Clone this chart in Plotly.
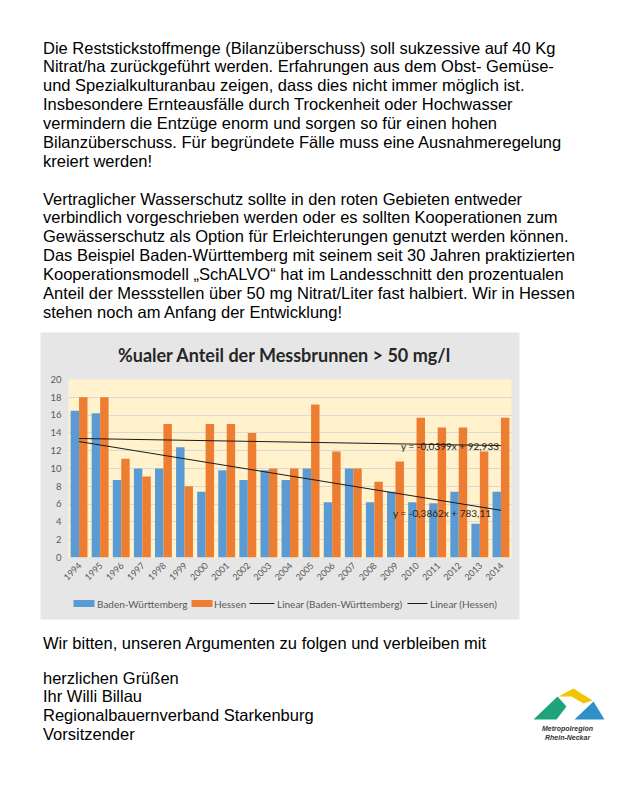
import plotly.graph_objects as go

# ---------------- data ----------------
years = list(range(1994, 2015))
year_labels = [str(y) for y in years]
bw_values = [16.5, 16.2, 8.7, 10.0, 10.0, 12.4, 7.4, 9.8, 8.7, 9.8, 8.7,
             10.0, 6.2, 10.0, 6.2, 7.4, 6.2, 6.1, 7.4, 3.8, 7.4]
hessen_values = [18.0, 18.0, 11.1, 9.1, 15.0, 8.0, 15.0, 15.0, 14.0, 10.0, 10.0,
                 17.2, 11.9, 10.0, 8.5, 10.8, 15.7, 14.6, 14.6, 11.9, 15.7]
bw_slope, bw_intercept = -0.3862, 783.11
he_slope, he_intercept = -0.0399, 92.933
bw_eq = "y = -0,3862x + 783,11"
he_eq = "y = -0,0399x + 92,933"
y_ticks = list(range(0, 21, 2))
chart_title = "%ualer Anteil der Messbrunnen &gt; 50 mg/l"
series_names = ["Baden-Württemberg", "Hessen",
                "Linear (Baden-Württemberg)", "Linear (Hessen)"]

para1 = [
    "Die Reststickstoffmenge (Bilanzüberschuss) soll sukzessive auf 40 Kg",
    "Nitrat/ha zurückgeführt werden. Erfahrungen aus dem Obst- Gemüse-",
    "und Spezialkulturanbau zeigen, dass dies nicht immer möglich ist.",
    "Insbesondere Ernteausfälle durch Trockenheit oder Hochwasser",
    "vermindern die Entzüge enorm und sorgen so für einen hohen",
    "Bilanzüberschuss. Für begründete Fälle muss eine Ausnahmeregelung",
    "kreiert werden!",
]
para2 = [
    "Vertraglicher Wasserschutz sollte in den roten Gebieten entweder",
    "verbindlich vorgeschrieben werden oder es sollten Kooperationen zum",
    "Gewässerschutz als Option für Erleichterungen genutzt werden können.",
    "Das Beispiel Baden-Württemberg mit seinem seit 30 Jahren praktizierten",
    "Kooperationsmodell „SchALVO“ hat im Landesschnitt den prozentualen",
    "Anteil der Messstellen über 50 mg Nitrat/Liter fast halbiert. Wir in Hessen",
    "stehen noch am Anfang der Entwicklung!",
]
closing = "Wir bitten, unseren Argumenten zu folgen und verbleiben mit"
signature = ["herzlichen Grüßen", "Ihr Willi Billau",
             "Regionalbauernverband Starkenburg", "Vorsitzender"]

# ---------------- geometry helpers ----------------
W, H = 620, 786
OX, OY = 8.5, 8.5   # page offset of the figure inside the browser window
def px(x):
    return (x - OX) / W
def py(y):
    return 1 - (y - OY) / H

PL, PR, PT, PB = 69, 512, 380, 558

bw_trend = [bw_slope * y + bw_intercept for y in years]
he_trend = [he_slope * y + he_intercept for y in years]

fig = go.Figure()
fig.add_trace(go.Bar(x=years, y=bw_values, name=series_names[0], showlegend=False,
                     marker=dict(color="#5B9BD5", line=dict(width=0))))
fig.add_trace(go.Bar(x=years, y=hessen_values, name=series_names[1], showlegend=False,
                     marker=dict(color="#ED7D31", line=dict(width=0))))
fig.add_trace(go.Scatter(x=years, y=bw_trend, mode="lines", showlegend=False,
                         name=series_names[2],
                         line=dict(color="#1a1a1a", width=1)))
fig.add_trace(go.Scatter(x=years, y=he_trend, mode="lines", showlegend=False,
                         name=series_names[3],
                         line=dict(color="#1a1a1a", width=1)))

def rect(x0, x1, y0, y1, color, layer="below"):
    return dict(type="rect", xref="paper", yref="paper", layer=layer,
                x0=px(x0), x1=px(x1), y0=py(y1), y1=py(y0),
                fillcolor=color, line=dict(width=0))

def poly(pts, color):
    d = "M " + " L ".join("%f %f" % (px(a), py(b)) for a, b in pts) + " Z"
    return dict(type="path", xref="paper", yref="paper", layer="above",
                path=d, fillcolor=color, line=dict(width=0))

shapes = [
    rect(41, 520, 333, 620, "#E7E6E6"),
    rect(PL, PR, PT, PB, "#FFF2CC"),
    # custom legend swatches
    rect(74, 95, 600.5, 607.5, "#5B9BD5", "above"),
    rect(192, 213, 600.5, 607.5, "#ED7D31", "above"),
    dict(type="line", xref="paper", yref="paper", x0=px(250), x1=px(275),
         y0=py(604), y1=py(604), line=dict(color="#1a1a1a", width=1)),
    dict(type="line", xref="paper", yref="paper", x0=px(408), x1=px(428),
         y0=py(604), y1=py(604), line=dict(color="#1a1a1a", width=1)),
    # logo
    poly([(534, 720), (558, 697), (567, 707), (557, 720)], "#1FA37A"),
    poly([(559, 697), (574, 689), (593, 701), (584, 704), (572, 697)], "#F5C400"),
    poly([(575, 720), (594, 702), (605, 720)], "#2E8FC9"),
]

leg_font = dict(family="Lato, sans-serif", size=10, color="#595959")
annotations = [
    dict(text="<b>" + chart_title + "</b>", xref="paper", yref="paper",
         x=px(284), y=py(355), showarrow=False, xanchor="center", yanchor="middle",
         font=dict(family="Lato, Open Sans, sans-serif", size=18, color="#262626")),
    dict(text=he_eq, xref="x", yref="y", x=2011.6, y=12.5, showarrow=False,
         xanchor="center", yanchor="middle",
         font=dict(family="Lato, sans-serif", size=10, color="#262626")),
    dict(text=bw_eq, xref="x", yref="y", x=2011.2, y=5.05, showarrow=False,
         xanchor="center", yanchor="middle",
         font=dict(family="Lato, sans-serif", size=10, color="#262626")),
    dict(text="<b><i>Metropolregion</i></b>", xref="paper", yref="paper",
         x=px(568), y=py(729), showarrow=False, xanchor="center", yanchor="middle",
         font=dict(family="Liberation Sans, Arial", size=7, color="#333333")),
    dict(text="<b><i>Rhein-Neckar</i></b>", xref="paper", yref="paper",
         x=px(568), y=py(738), showarrow=False, xanchor="center", yanchor="middle",
         font=dict(family="Liberation Sans, Arial", size=7, color="#333333")),
]
for name, lx in zip(series_names, [95, 212, 275, 428]):
    annotations.append(dict(text=name, xref="paper", yref="paper", x=px(lx), y=py(604),
                            showarrow=False, xanchor="left", yanchor="middle",
                            font=leg_font))

doc_font = dict(family="Liberation Sans, Arial, sans-serif", size=16.5, color="#000000")
step = 18.9
def add_lines(lines, y0):
    for i, t in enumerate(lines):
        annotations.append(dict(text=t, xref="paper", yref="paper", x=px(41),
                                y=py(y0 + i * step), showarrow=False,
                                xanchor="left", yanchor="middle", font=doc_font))
add_lines(para1, 48)
add_lines(para2, 199)
add_lines([closing], 643)
add_lines(signature, 678)

fig.update_layout(
    width=W, height=H,
    margin=dict(l=0, r=0, t=0, b=0),
    paper_bgcolor="white",
    plot_bgcolor="rgba(0,0,0,0)",
    barmode="group", bargap=0.2, bargroupgap=0.0,
    showlegend=False,
    xaxis=dict(domain=[px(PL), px(PR)], range=[1993.5, 2014.5], tickmode="array",
               tickvals=years, ticktext=year_labels, tickangle=-45,
               showgrid=False, zeroline=False, showline=False, automargin=False,
               tickfont=dict(family="Lato, sans-serif", size=9, color="#595959")),
    yaxis=dict(domain=[py(PB), py(PT)], range=[0, 20], tickmode="array",
               tickvals=y_ticks, showgrid=True, gridcolor="#D9D9D9", gridwidth=1,
               zeroline=False, showline=False, ticklabelstandoff=6, automargin=False,
               tickfont=dict(family="Lato, sans-serif", size=9.5, color="#595959")),
    shapes=shapes,
    annotations=annotations,
)

fig.write_html("out.html")
